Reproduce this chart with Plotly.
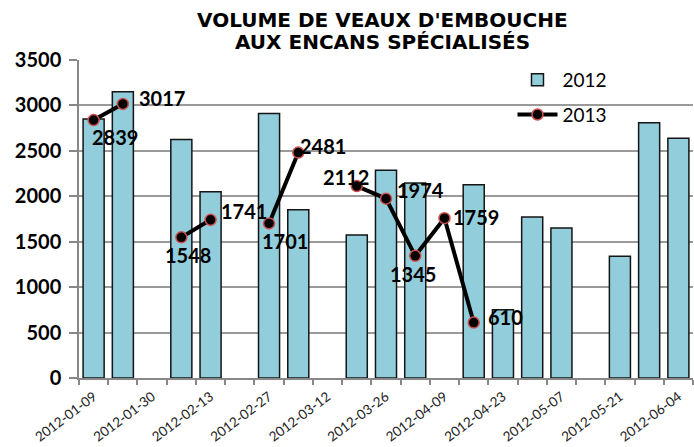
import plotly.graph_objects as go

categories = ["2012-01-09", "2012-01-16", "2012-01-30", "2012-02-06", "2012-02-13",
              "2012-02-20", "2012-02-27", "2012-03-05", "2012-03-12", "2012-03-19",
              "2012-03-26", "2012-04-02", "2012-04-09", "2012-04-16", "2012-04-23",
              "2012-04-30", "2012-05-07", "2012-05-14", "2012-05-21", "2012-05-28",
              "2012-06-04"]
values_2012 = [2852, 3150, None, 2626, 2051, None, 2912, 1852, None, 1574,
               2286, 2146, None, 2128, 750, 1772, 1651, None, 1339, 2808, 2640]
values_2013 = [2839, 3017, None, 1548, 1741, None, 1701, 2481, None, 2112,
               1974, 1345, 1759, 610, None, None, None, None, None, None, None]
tick_text = [c if i % 2 == 0 else "" for i, c in enumerate(categories)]
title_lines = ["VOLUME DE VEAUX D'EMBOUCHE", "AUX ENCANS SPÉCIALISÉS"]

# label offsets (pixels) for the 2013 data labels, per non-empty point in order
label_dx = [21, 39, 7, 33, 16, 25, -11, 34, -2, 32, 32]
label_dy = [-17, 6, -18, 9, -18, 7, 9, 9, -18, 1, 6]

fig = go.Figure()
fig.add_trace(go.Bar(
    x=categories, y=values_2012, name="2012",
    marker=dict(color="#92CDDC", line=dict(color="#151515", width=1.5)),
    legendgroup="a",
))
fig.add_trace(go.Scatter(
    x=categories, y=values_2013, name="2013", mode="lines+markers",
    line=dict(color="black", width=4), connectgaps=False,
    marker=dict(color="black", size=11, line=dict(color="#D0504D", width=1.5)),
    legendgroup="b",
))

annots = []
k = 0
for c, v in zip(categories, values_2013):
    if v is None:
        continue
    annots.append(dict(text=str(v), x=c, y=v, xref="x", yref="y",
                       xshift=label_dx[k], yshift=label_dy[k],
                       xanchor="center", yanchor="middle", showarrow=False,
                       font=dict(family="Lato", size=20, color="black", weight="bold")))
    k += 1

title_y = [1.1258, 1.0566]
for line, ty in zip(title_lines, title_y):
    annots.append(dict(text=line, xref="paper", yref="paper", x=0.4935, y=ty,
                       xanchor="center", yanchor="middle", showarrow=False,
                       font=dict(family="DejaVu Sans", size=20, color="black", weight="bold")))

fig.update_layout(
    width=694, height=447,
    margin=dict(l=79, r=1, t=60, b=69),
    paper_bgcolor="white", plot_bgcolor="white",
    bargap=0.28,
    annotations=annots,
    legend=dict(x=0.706, y=0.997, xanchor="left", yanchor="top",
                font=dict(family="Lato", size=19, color="black"),
                itemwidth=40, tracegroupgap=7, bgcolor="rgba(0,0,0,0)"),
    showlegend=True,
)
fig.update_xaxes(
    type="category", categoryorder="array", categoryarray=categories,
    range=[-0.5, 20.5], automargin=False,
    tickmode="array", tickvals=categories, ticktext=tick_text,
    tickson="boundaries", ticks="outside", ticklen=5, tickcolor="#888", tickwidth=1.5,
    ticklabelstandoff=4,
    tickangle=-37, tickfont=dict(family="Lato", size=13.5, color="#222"),
    showline=True, linecolor="#888", linewidth=1.5, showgrid=False,
)
fig.update_yaxes(
    range=[0, 3500], dtick=500, tick0=0, automargin=False,
    ticks="outside", ticklen=8, tickcolor="#888", tickwidth=1.5, ticklabelstandoff=4,
    tickfont=dict(family="Lato", size=20, color="black", weight="bold"),
    showgrid=True, gridcolor="#9a9a9a", gridwidth=1.5,
    showline=True, linecolor="#888", linewidth=1.5, zeroline=False,
)

fig.write_html("out.html", config={"displayModeBar": False},
               post_script="document.body.style.margin='0';")
